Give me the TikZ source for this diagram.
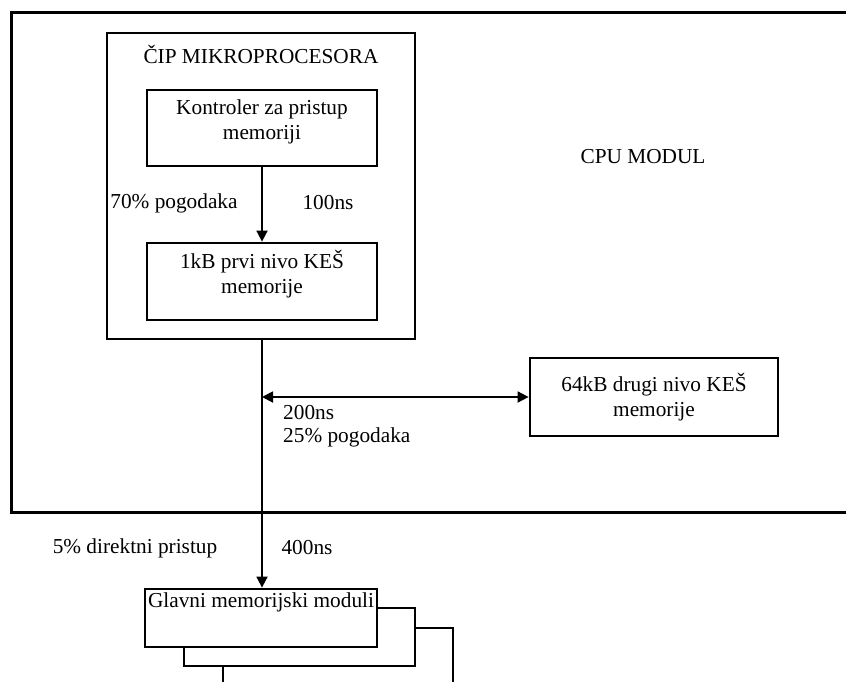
\documentclass[tikz,border=0pt]{standalone}
\usepackage{fontspec}
\setmainfont{Liberation Serif}
\usetikzlibrary{arrows.meta}
\begin{document}
\begin{tikzpicture}[x=1pt,y=-1pt,
  box/.style={draw, line width=2.8pt, fill=white, inner sep=0pt},
  txt/.style={font=\fontsize{21.3}{25}\selectfont, inner sep=0pt, align=center},
  link/.style={line width=1.8pt},
  head/.tip={Triangle[length=11pt,width=11pt]},
  tip/.style={-head},
  tips/.style={head-head}]
\useasboundingbox (0,0) rectangle (846,682);
\clip (0,0) rectangle (846,682);

% CPU module frame (runs off the right edge)
\node[box, fill=none, line width=3pt, minimum width=899pt, minimum height=499pt] (cpu) at (460.5,262.5) {};
\node[txt] (cputxt) at (643,157) {CPU MODUL};

% microprocessor chip
\node[box, minimum width=308pt, minimum height=306pt] (chip) at (261,186) {};
\node[txt, anchor=north] (chiptxt) at (261,45) {ČIP MIKROPROCESORA};

\node[box, minimum width=230pt, minimum height=76pt] (ctrl) at (262,128) {};
\node[txt, anchor=north] (ctrltxt) at (262,100) {Kontroler za pristup\\memoriji};

\node[box, minimum width=230pt, minimum height=77pt] (l1) at (262,281.5) {};
\node[txt, anchor=north] (l1txt) at (262,250) {1kB prvi nivo KEŠ\\memorije};

% second level cache
\node[box, minimum width=248pt, minimum height=78pt] (l2) at (654,397) {};
\node[txt] (l2txt) at (l2) {64kB drugi nivo KEŠ\\memorije};

% stacked main memory modules, back to front
\node[box, minimum width=230pt, minimum height=58pt] (mem3) at (338,657) {};
\node[box, minimum width=231pt, minimum height=58pt] (mem2) at (299.5,637) {};
\node[box, minimum width=232pt, minimum height=58pt] (mem) at (261,618) {};
\node[txt, anchor=north] (memtxt) at (mem.north) [yshift=-5pt] {Glavni memorijski moduli};

% connectors
\draw[link, tip] (ctrl.south) -- (l1.north);
\draw[link, tip] (ctrl.south |- chip.south) -- (ctrl.south |- mem.north);
\coordinate (tap) at (ctrl.south |- l2.west);
\draw[link, tips] (tap) -- (l2.west);

% labels
\node[txt] (hit1) at (174,203) {70\% pogodaka};
\node[txt] (t1) at (328,203) {100ns};
\node[txt, anchor=west] (t2) at (283,413) {200ns};
\node[txt, anchor=west] (hit2) at (283,437) {25\% pogodaka};
\node[txt] (hit3) at (135,548) {5\% direktni pristup};
\node[txt] (t3) at (307,548) {400ns};
\end{tikzpicture}
\end{document}
